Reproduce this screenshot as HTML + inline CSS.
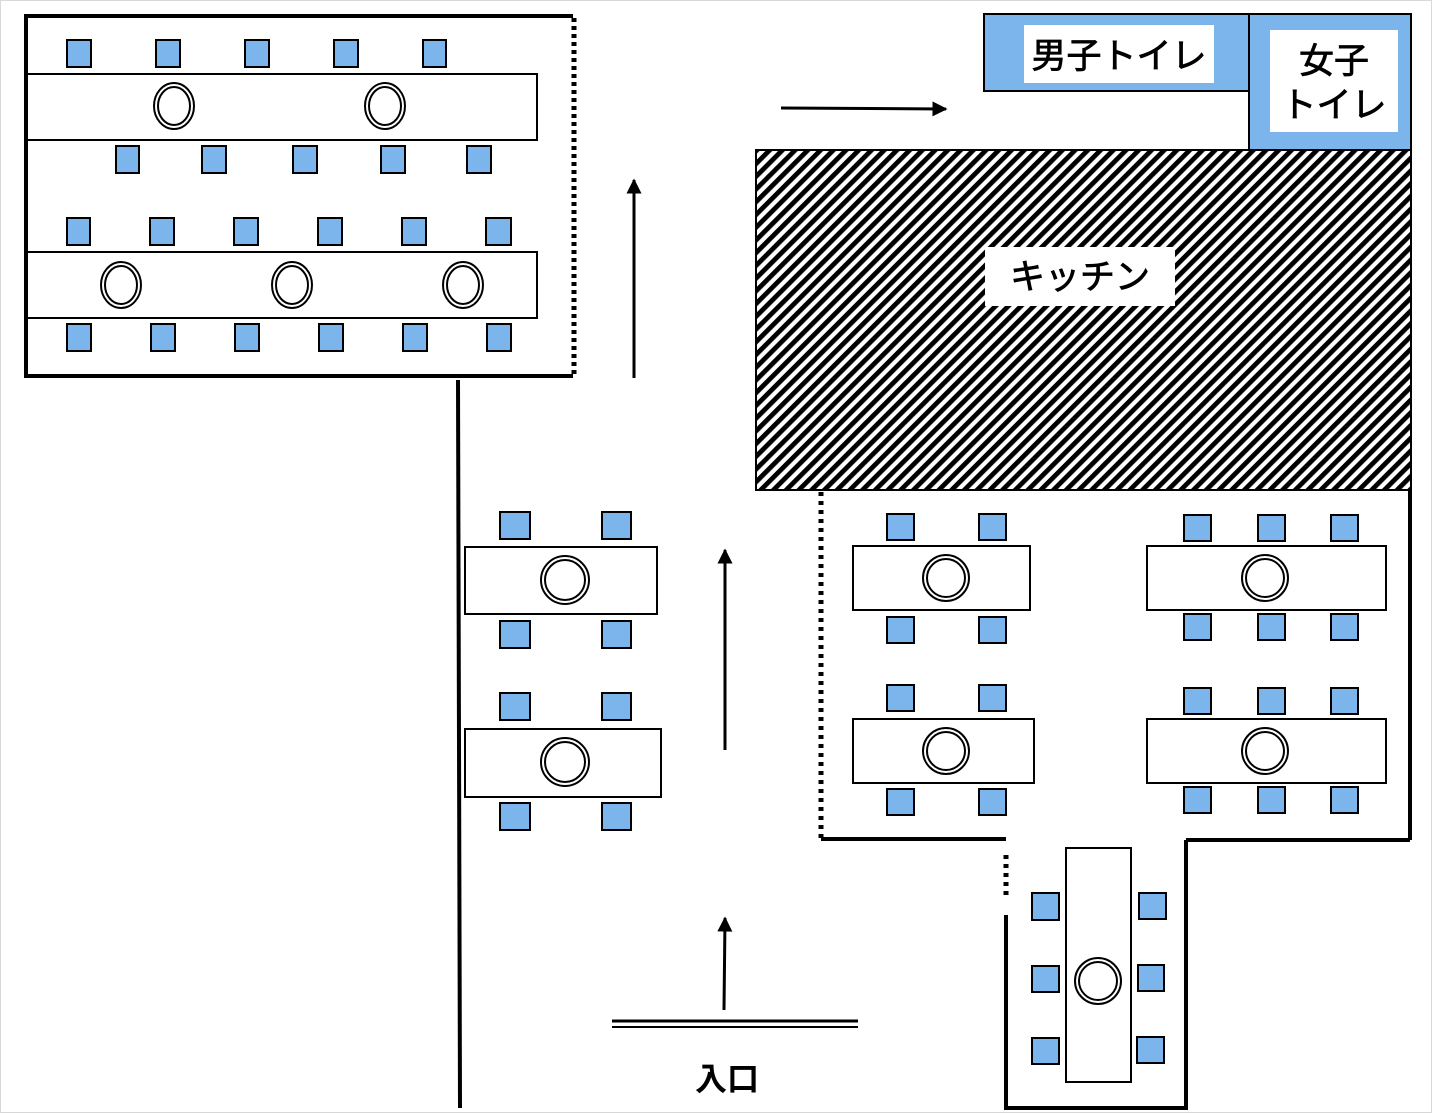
<!DOCTYPE html>
<html><head><meta charset="utf-8"><style>
html,body{margin:0;padding:0;background:#fff}
svg{display:block}
text{font-family:"Liberation Sans","Noto Sans CJK JP",sans-serif;}
</style></head><body>
<svg width="1432" height="1114" viewBox="0 0 1432 1114" xmlns="http://www.w3.org/2000/svg">
<defs>
<pattern id="h" width="9" height="9" patternUnits="userSpaceOnUse" patternTransform="rotate(45)">
<rect x="0" y="0" width="4.8" height="9" fill="#000"/>
</pattern>
<marker id="a" viewBox="0 0 10 10" refX="9" refY="5" markerWidth="5.5" markerHeight="5" orient="auto"><path d="M0,0 L10,5 L0,10 z" fill="#000"/></marker>
</defs>
<rect x="0.5" y="0.5" width="1431" height="1112" fill="none" stroke="#d8d8d8" stroke-width="1"/>
<g stroke="#000" stroke-width="4" fill="none">
<polyline points="573,16 26,16 26,376 573,376"/>
<line x1="574" y1="18" x2="574" y2="376" stroke-width="5" stroke-dasharray="4,4"/>
<line x1="458" y1="380" x2="460" y2="1108"/>
<line x1="1410" y1="490" x2="1410" y2="840"/>
<line x1="1410" y1="840" x2="1186" y2="840"/>
<polyline points="1186,840 1186,1108 1006,1108 1006,915"/>
<line x1="1006" y1="855" x2="1006" y2="897" stroke-width="5" stroke-dasharray="4,5"/>
<line x1="821" y1="839" x2="1006" y2="839"/>
<line x1="821" y1="492" x2="821" y2="838" stroke-width="5" stroke-dasharray="4,5"/>
</g>
<g stroke="#000" stroke-width="3" fill="none">
<line x1="634" y1="378" x2="634" y2="180" marker-end="url(#a)"/>
<line x1="725" y1="750" x2="725" y2="550" marker-end="url(#a)"/>
<line x1="724" y1="1010" x2="725" y2="918" marker-end="url(#a)"/>
<line x1="781" y1="108" x2="946" y2="109" marker-end="url(#a)"/>
<line x1="612" y1="1021" x2="858" y2="1021"/>
<line x1="612" y1="1027" x2="858" y2="1027" stroke-width="2"/>
</g>
<text x="727" y="1090" font-size="32" font-weight="bold" text-anchor="middle">入口</text>
<rect x="984" y="14" width="265" height="77" fill="#7cb5ec" stroke="#000" stroke-width="2"/>
<rect x="1024" y="25" width="190" height="58" fill="#fff"/>
<g stroke="#000" stroke-width="0.8">
<text x="1119" y="68" font-size="35" text-anchor="middle">男子トイレ</text>
</g>
<rect x="1249" y="14" width="162" height="136" fill="#7cb5ec" stroke="#000" stroke-width="2"/>
<rect x="1270" y="30" width="128" height="102" fill="#fff"/>
<g stroke="#000" stroke-width="0.8">
<text x="1334" y="73" font-size="35" text-anchor="middle">女子</text>
<text x="1334" y="117" font-size="35" text-anchor="middle">トイレ</text>
</g>
<rect x="756" y="150" width="655" height="340" fill="url(#h)" stroke="#000" stroke-width="2"/>
<rect x="985" y="247" width="190" height="59" fill="#fff"/>
<text x="1080" y="289" font-size="35" text-anchor="middle" stroke="#000" stroke-width="0.8">キッチン</text>
<g stroke="#000" stroke-width="2" fill="#fff">
<rect x="27" y="74" width="510" height="66"/>
<rect x="27" y="252" width="510" height="66"/>
<rect x="465" y="547" width="192" height="67"/>
<rect x="465" y="729" width="196" height="68"/>
<rect x="853" y="546" width="177" height="64"/>
<rect x="1147" y="546" width="239" height="64"/>
<rect x="853" y="719" width="181" height="64"/>
<rect x="1147" y="719" width="239" height="64"/>
<rect x="1066" y="848" width="65" height="234"/>
</g>
<g stroke="#000" stroke-width="2" fill="#fff">
<ellipse cx="174" cy="106" rx="20" ry="23"/><ellipse cx="174" cy="106" rx="16" ry="19"/>
<ellipse cx="385" cy="106" rx="20" ry="23"/><ellipse cx="385" cy="106" rx="16" ry="19"/>
<ellipse cx="121" cy="285" rx="20" ry="23"/><ellipse cx="121" cy="285" rx="16" ry="19"/>
<ellipse cx="292" cy="285" rx="20" ry="23"/><ellipse cx="292" cy="285" rx="16" ry="19"/>
<ellipse cx="463" cy="285" rx="20" ry="23"/><ellipse cx="463" cy="285" rx="16" ry="19"/>
<circle cx="565" cy="580" r="24"/><circle cx="565" cy="580" r="20"/>
<circle cx="565" cy="762" r="24"/><circle cx="565" cy="762" r="20"/>
<circle cx="946" cy="578" r="23"/><circle cx="946" cy="578" r="19"/>
<circle cx="1265" cy="578" r="23"/><circle cx="1265" cy="578" r="19"/>
<circle cx="946" cy="751" r="23"/><circle cx="946" cy="751" r="19"/>
<circle cx="1265" cy="751" r="23"/><circle cx="1265" cy="751" r="19"/>
<circle cx="1098" cy="981" r="23"/><circle cx="1098" cy="981" r="19"/>
</g>
<g stroke="#000" stroke-width="2" fill="#7cb5ec">
<rect x="67" y="40" width="24" height="27"/><rect x="156" y="40" width="24" height="27"/><rect x="245" y="40" width="24" height="27"/><rect x="334" y="40" width="24" height="27"/><rect x="423" y="40" width="23" height="27"/>
<rect x="116" y="146" width="23" height="27"/><rect x="202" y="146" width="24" height="27"/><rect x="293" y="146" width="24" height="27"/><rect x="381" y="146" width="24" height="27"/><rect x="467" y="146" width="24" height="27"/>
<rect x="67" y="218" width="23" height="27"/><rect x="150" y="218" width="24" height="27"/><rect x="234" y="218" width="24" height="27"/><rect x="318" y="218" width="24" height="27"/><rect x="402" y="218" width="24" height="27"/><rect x="486" y="218" width="25" height="27"/>
<rect x="67" y="324" width="24" height="27"/><rect x="151" y="324" width="24" height="27"/><rect x="235" y="324" width="24" height="27"/><rect x="319" y="324" width="24" height="27"/><rect x="403" y="324" width="24" height="27"/><rect x="487" y="324" width="24" height="27"/>
<rect x="500" y="512" width="30" height="27"/><rect x="602" y="512" width="29" height="27"/>
<rect x="500" y="621" width="30" height="27"/><rect x="602" y="621" width="29" height="27"/>
<rect x="500" y="693" width="30" height="27"/><rect x="602" y="693" width="29" height="27"/>
<rect x="500" y="803" width="30" height="27"/><rect x="602" y="803" width="29" height="27"/>
<rect x="887" y="514" width="27" height="26"/><rect x="979" y="514" width="27" height="26"/>
<rect x="887" y="617" width="27" height="26"/><rect x="979" y="617" width="27" height="26"/>
<rect x="887" y="685" width="27" height="26"/><rect x="979" y="685" width="27" height="26"/>
<rect x="887" y="789" width="27" height="26"/><rect x="979" y="789" width="27" height="26"/>
<rect x="1184" y="515" width="27" height="26"/><rect x="1258" y="515" width="27" height="26"/><rect x="1331" y="515" width="27" height="26"/>
<rect x="1184" y="614" width="27" height="26"/><rect x="1258" y="614" width="27" height="26"/><rect x="1331" y="614" width="27" height="26"/>
<rect x="1184" y="688" width="27" height="26"/><rect x="1258" y="688" width="27" height="26"/><rect x="1331" y="688" width="27" height="26"/>
<rect x="1184" y="787" width="27" height="26"/><rect x="1258" y="787" width="27" height="26"/><rect x="1331" y="787" width="27" height="26"/>
<rect x="1032" y="893" width="27" height="27"/><rect x="1032" y="966" width="27" height="26"/><rect x="1032" y="1038" width="27" height="26"/>
<rect x="1139" y="893" width="27" height="26"/><rect x="1138" y="965" width="26" height="26"/><rect x="1137" y="1037" width="27" height="26"/>
</g>
</svg>
</body></html>
